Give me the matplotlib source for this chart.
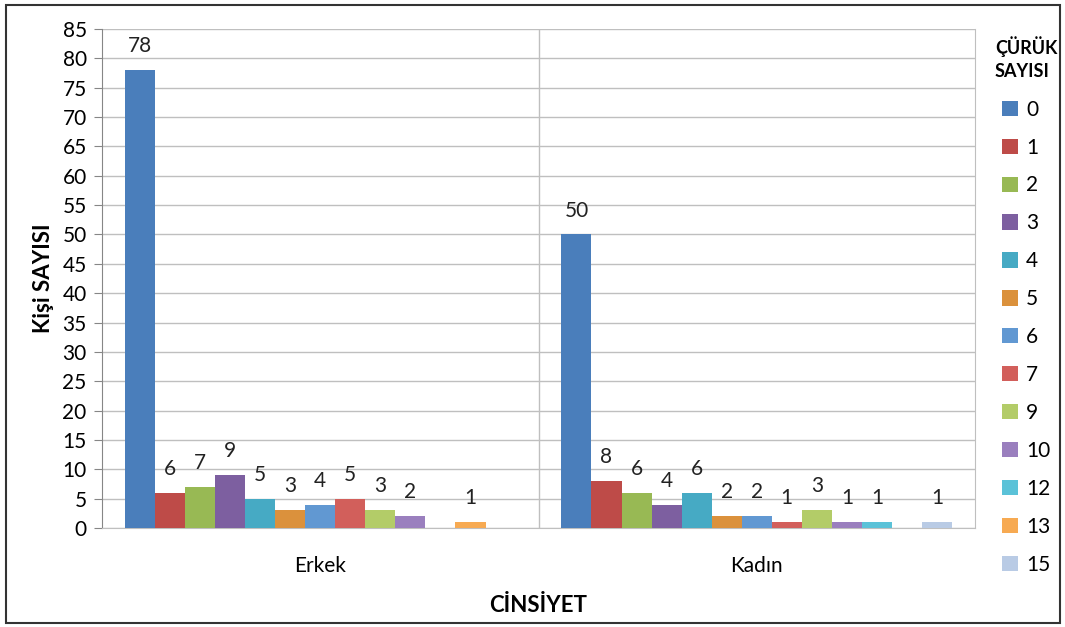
import numpy as np
import matplotlib.pyplot as plt
from matplotlib.patches import Rectangle, Patch

plt.rcParams['font.family'] = ['Lato', 'DejaVu Sans']

categories = ["Erkek", "Kadın"]
series = ["0", "1", "2", "3", "4", "5", "6", "7", "9", "10", "12", "13", "15"]
# None = no bar in that group
erkek = [78, 6, 7, 9, 5, 3, 4, 5, 3, 2, None, 1, None]
kadin = [50, 8, 6, 4, 6, 2, 2, 1, 3, 1, 1, None, 1]
colors = ["#4A7EBB", "#BE4B48", "#98B954", "#7D5FA0", "#46AAC4", "#DB913C",
          "#6198D2", "#D25F5B", "#B3CC68", "#9A7FBE", "#5BC2D8", "#F7AA52", "#B9CBE5"]

fig = plt.figure(figsize=(10.65, 6.27), dpi=100)
ax = fig.add_axes([102/1065, 1-528/627, (975-102)/1065, (528-29)/627])

n = len(series)
w = 0.895 / n
x = np.arange(len(categories))
for i, s in enumerate(series):
    vals = [erkek[i], kadin[i]]
    for j, v in enumerate(vals):
        if v is None:
            continue
        xp = x[j] + (i - (n - 1) / 2) * w
        ax.bar(xp, v, width=w, color=colors[i], edgecolor='none', zorder=3)
        ax.annotate(str(v), (xp, v), xytext=(0, 10), textcoords='offset points',
                    ha='center', va='bottom', fontsize=15, color='#222222')

ax.set_xlim(-0.5, 1.5)
ax.set_ylim(0, 85)
ax.set_yticks(range(0, 86, 5))
ax.set_xticks(x)
ax.set_xticklabels(categories, fontsize=15)
ax.tick_params(axis='y', labelsize=15, length=6, color='#868686', pad=5)
ax.tick_params(axis='x', length=0, pad=20)
ax.grid(axis='y', color='#BFBFBF', linewidth=1, zorder=0)
ax.axvline(0.5, color='#BFBFBF', linewidth=1, zorder=0)
ax.spines['top'].set_visible(False)
ax.spines['right'].set_color('#BFBFBF')
ax.spines['left'].set_color('#868686')
ax.spines['bottom'].set_color('#BFBFBF')

ax.set_ylabel("Kişi SAYISI", fontsize=16, fontweight='bold', labelpad=6)
ax.set_xlabel("CİNSİYET", fontsize=16, fontweight='bold', labelpad=14)

handles = [Patch(facecolor=c, edgecolor='none') for c in colors]
leg = fig.legend(handles, series, loc='upper left', bbox_to_anchor=(995/1065, 1-36/627),
                 frameon=False, fontsize=15, title="ÇÜRÜK\nSAYISI",
                 title_fontproperties={'weight': 'bold', 'size': 13},
                 handlelength=0.75, handleheight=0.75, handletextpad=0.4,
                 labelspacing=0.86, borderaxespad=0, borderpad=0)
leg.get_title().set_linespacing(1.45)
leg._legend_box.align = "center"
leg._legend_box.sep = 14

fig.patches.append(Rectangle((6/1065, 4/627), 1054/1065, 618/627, transform=fig.transFigure,
                             fill=False, edgecolor='#333333', linewidth=1.5))

fig.savefig("out.png", dpi=100)
